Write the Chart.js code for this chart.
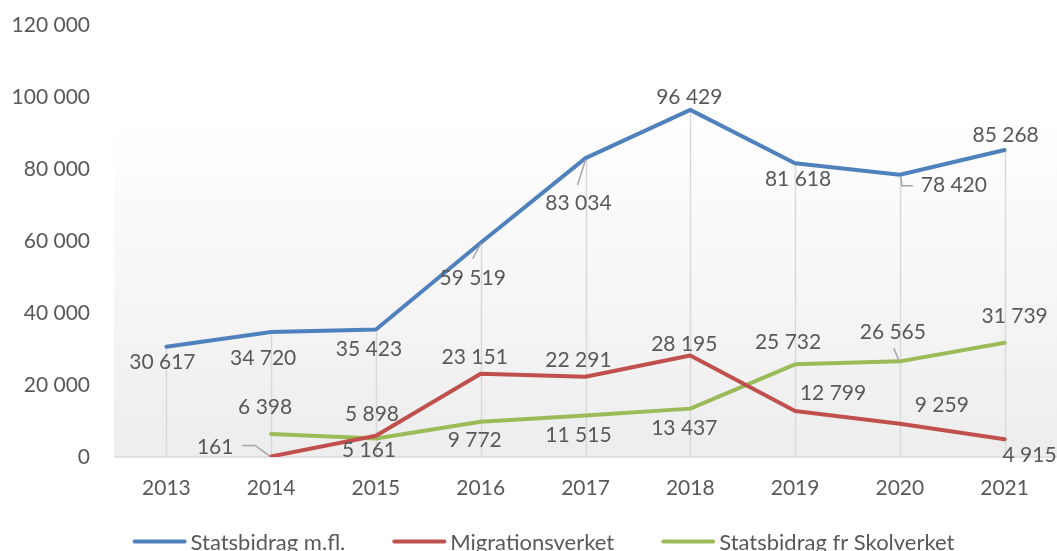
<!DOCTYPE html>
<html>
<head>
<meta charset="utf-8">
<script src="https://cdn.jsdelivr.net/npm/chart.js@4.4.1/dist/chart.umd.min.js"></script>
<style>
  html, body { margin: 0; padding: 0; background: #ffffff; overflow: hidden; }
  #wrap { position: relative; width: 1057px; height: 551px; }
</style>
</head>
<body>
<div id="wrap"><canvas id="chart"></canvas></div>
<script>
// Data
const years = ['2013', '2014', '2015', '2016', '2017', '2018', '2019', '2020', '2021'];
const statsbidrag = [30617, 34720, 35423, 59519, 83034, 96429, 81618, 78420, 85268];
const migrationsverket = [null, 161, 5898, 23151, 22291, 28195, 12799, 9259, 4915];
const skolverket = [null, 6398, 5161, 9772, 11515, 13437, 25732, 26565, 31739];
const seriesNames = ['Statsbidrag m.fl.', 'Migrationsverket', 'Statsbidrag fr Skolverket'];
const yTicks = [0, 20000, 40000, 60000, 80000, 100000, 120000];

const textColor = '#595959';
const fontFamily = 'Lato, "Open Sans", sans-serif';
const fontSize = 21;

// where each value label sits, relative to its point (dx, dy in px)
const labelOffsets = [
  [[-4, 15], [-8, 26], [-7, 20], [-8, 36], [-7, 45], [-1, -13], [3, 16], [54, 11], [1, -15]],
  [null, [-56, -9], [-4, -22], [-6, -16], [-7, -17], [-6, -11], [38, -18], [42, -18], [25, 16]],
  [null, [-6, -27], [-7, 12], [-6, 18], [-7, 20], [-6, 20], [-7, -22], [-7, -29], [10, -27]]
];

// leader lines, as polylines relative to the point
const leaders = {
  '0-3': [[0, 1], [-8, 16]],
  '0-4': [[0, 2], [-8, 27]],
  '0-7': [[1, 2], [2, 11], [13, 11]],
  '1-1': [[-1, 0], [-16, -11], [-29, -11]],
  '2-7': [[-1, -1], [-6, -13]]
};

const fmt = (v) => String(v).replace(/\B(?=(\d{3})+(?!\d))/g, ' ');

// plot area gradient + drop lines
const backdropPlugin = {
  id: 'backdrop',
  beforeDatasetsDraw(chart) {
    const { ctx, chartArea, scales } = chart;
    ctx.save();
    const top = chartArea.top + 57;
    const g = ctx.createLinearGradient(0, top, 0, chartArea.bottom);
    g.addColorStop(0, '#ffffff');
    g.addColorStop(0.1, '#ffffff');
    g.addColorStop(1, '#ededed');
    ctx.fillStyle = g;
    ctx.fillRect(chartArea.left, top, chartArea.right - chartArea.left, chartArea.bottom - top);

    // drop lines from the highest point down to the axis
    ctx.strokeStyle = '#d9d9d9';
    ctx.lineWidth = 1.5;
    years.forEach((y, j) => {
      const vals = chart.data.datasets.map(ds => ds.data[j]).filter(v => v !== null);
      const high = Math.max(...vals);
      const x = Math.round(scales.x.getPixelForValue(j)) + 0.5;
      ctx.beginPath();
      ctx.moveTo(x, scales.y.getPixelForValue(high));
      ctx.lineTo(x, chartArea.bottom);
      ctx.stroke();
    });
    // baseline
    ctx.beginPath();
    ctx.moveTo(chartArea.left, chartArea.bottom);
    ctx.lineTo(chartArea.right, chartArea.bottom);
    ctx.stroke();
    ctx.restore();
  }
};

// value labels and leader lines
const labelPlugin = {
  id: 'valueLabels',
  afterDatasetsDraw(chart) {
    const ctx = chart.ctx;
    ctx.save();
    ctx.font = fontSize + 'px ' + fontFamily;
    ctx.fillStyle = textColor;
    ctx.textAlign = 'center';
    ctx.textBaseline = 'middle';
    chart.data.datasets.forEach((ds, i) => {
      const meta = chart.getDatasetMeta(i);
      meta.data.forEach((pt, j) => {
        const v = ds.data[j];
        if (v === null) return;
        const off = labelOffsets[i][j];
        const line = leaders[i + '-' + j];
        if (line) {
          ctx.strokeStyle = '#a6a6a6';
          ctx.lineWidth = 1.5;
          ctx.beginPath();
          line.forEach(([dx, dy], k) => {
            if (k === 0) ctx.moveTo(pt.x + dx, pt.y + dy);
            else ctx.lineTo(pt.x + dx, pt.y + dy);
          });
          ctx.stroke();
        }
        ctx.fillText(fmt(v), pt.x + off[0], pt.y + off[1]);
      });
    });
    ctx.restore();
  }
};

// legend drawn under the axis
const legendPlugin = {
  id: 'lineLegend',
  afterDraw(chart) {
    const ctx = chart.ctx;
    ctx.save();
    ctx.font = '22px ' + fontFamily;
    ctx.textBaseline = 'middle';
    const lineLen = 54, gap = 4, itemGap = 47;
    const items = chart.data.datasets.map(ds => ({
      label: ds.label, color: ds.borderColor, w: ctx.measureText(ds.label).width
    }));
    const total = items.reduce((s, it) => s + lineLen + gap + it.w, 0) + itemGap * (items.length - 1);
    let x = 543.5 - total / 2;
    const y = 541.5;
    items.forEach(it => {
      ctx.strokeStyle = it.color;
      ctx.lineWidth = 4;
      ctx.lineCap = 'round';
      ctx.beginPath();
      ctx.moveTo(x + 2, y);
      ctx.lineTo(x + lineLen - 2, y);
      ctx.stroke();
      ctx.fillStyle = textColor;
      ctx.fillText(it.label, x + lineLen + gap, y + 1);
      x += lineLen + gap + it.w + itemGap;
    });
    ctx.restore();
  }
};

const makeSeries = (label, data, color) => ({
  label: label,
  data: data,
  borderColor: color,
  backgroundColor: color,
  borderWidth: 4,
  pointRadius: 0,
  tension: 0,
  borderJoinStyle: 'round',
  borderCapStyle: 'round'
});

new Chart(document.getElementById('chart'), {
  type: 'line',
  data: {
    labels: years,
    datasets: [
      makeSeries(seriesNames[0], statsbidrag, '#4f81bd'),
      makeSeries(seriesNames[1], migrationsverket, '#c0504d'),
      makeSeries(seriesNames[2], skolverket, '#9bbb59')
    ]
  },
  options: {
    responsive: true,
    maintainAspectRatio: false,
    animation: false,
    layout: { padding: { top: 25, right: 0, bottom: 30, left: 0 } },
    plugins: {
      legend: { display: false },
      tooltip: { enabled: false }
    },
    scales: {
      x: {
        offset: true,
        grid: { display: false },
        border: { display: false },
        ticks: { color: textColor, font: { family: fontFamily, size: fontSize }, padding: 11, maxRotation: 0 },
        afterFit: (scale) => { scale.height = 64; }
      },
      y: {
        min: 0,
        max: 120000,
        grid: { display: false },
        border: { display: false },
        afterBuildTicks: (scale) => { scale.ticks = yTicks.map(v => ({ value: v })); },
        ticks: {
          color: textColor,
          font: { family: fontFamily, size: fontSize },
          padding: 16,
          callback: (v) => fmt(v)
        },
        afterFit: (scale) => {
          scale.width = 114;
          scale.paddingTop = 0;
          scale.paddingBottom = 0;
        }
      }
    }
  },
  plugins: [backdropPlugin, labelPlugin, legendPlugin]
});
</script>
</body>
</html>
